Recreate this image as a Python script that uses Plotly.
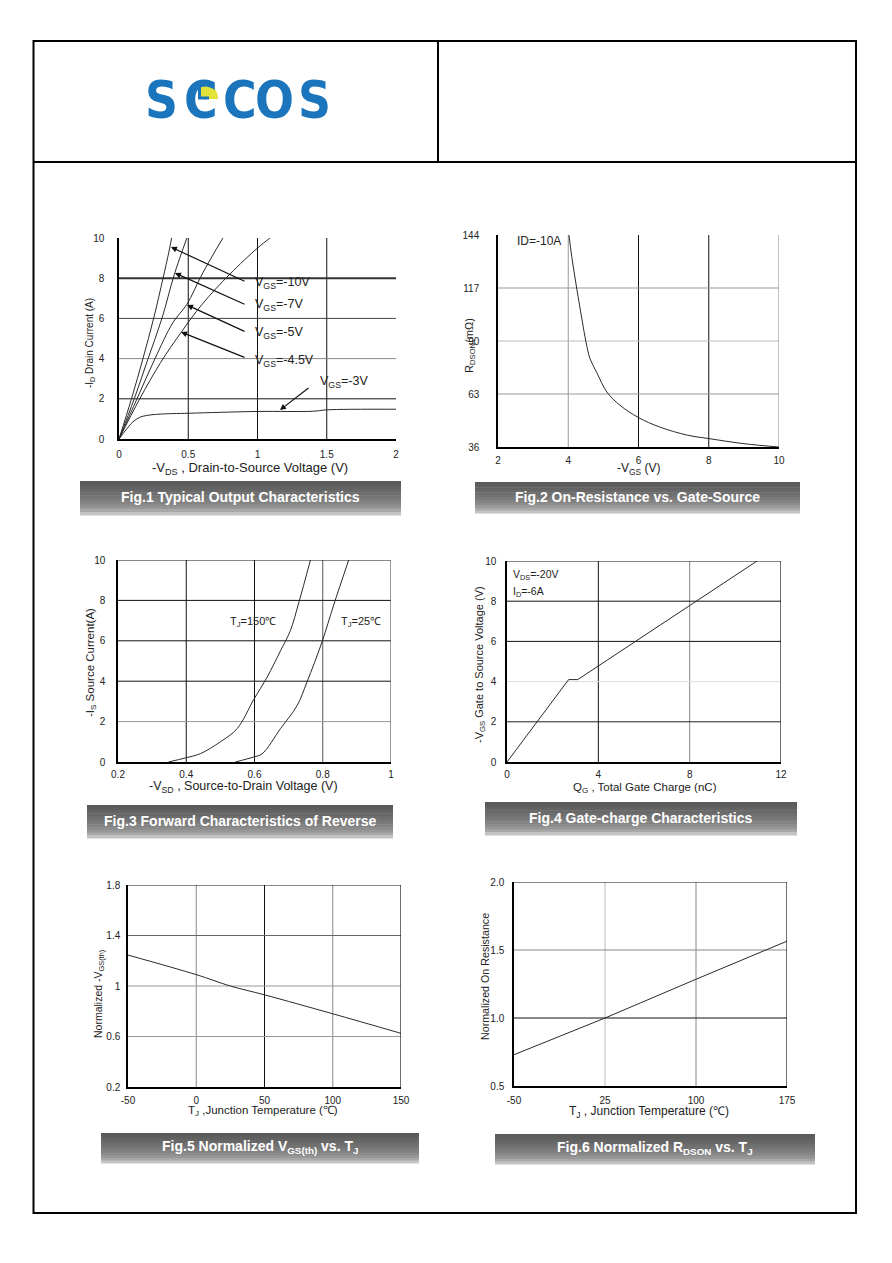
import math
import plotly.graph_objects as go

# the page body has an 8px margin, so the figure is sized to fit inside it
OFF = 8
W, H = 892 - 2 * OFF, 1263 - 2 * OFF

# Fig.1 typical output characteristics
vgs10_x = [0, 0.09, 0.173, 0.25, 0.318, 0.36, 0.38]
vgs10_y = [0, 2, 4, 6, 8, 9.3, 10]
vgs7_x = [0, 0.11, 0.21, 0.31, 0.40, 0.49]
vgs7_y = [0, 2, 4, 6, 8.2, 10]
vgs5_x = [0, 0.13, 0.26, 0.39, 0.49, 0.6, 0.75]
vgs5_y = [0, 2, 4, 5.8, 6.7, 8.2, 10]
vgs45_x = [0, 0.15, 0.3, 0.448, 0.6, 0.8, 1.0, 1.09]
vgs45_y = [0, 2, 3.8, 5.3, 6.7, 8.2, 9.5, 10]
vgs3_x = [0, 0.05, 0.1, 0.15, 0.2, 0.3, 0.5, 1.0, 1.4, 1.5, 2.0]
vgs3_y = [0, 0.45, 0.85, 1.08, 1.17, 1.24, 1.28, 1.37, 1.38, 1.45, 1.48]

# Fig.2 on-resistance vs gate-source
vgs_r = [4.02, 4.1, 4.24, 4.4, 4.5, 4.62, 4.81, 5.1, 5.47, 6.0, 6.6, 7.4, 8.0, 9.0, 10]
rdson = [144, 133, 117, 100, 90, 81, 74, 64, 57.3, 51, 46.2, 42, 40.3, 37.7, 36]

# Fig.3 forward characteristics of reverse diode
vsd150 = [0.348, 0.397, 0.441, 0.5, 0.549, 0.598, 0.637, 0.676, 0.705, 0.73, 0.764]
is150 = [0, 0.2, 0.41, 1.0, 1.65, 3.1, 4.2, 5.5, 6.5, 7.9, 10]
vsd25 = [0.544, 0.598, 0.622, 0.676, 0.725, 0.754, 0.798, 0.832, 0.876]
is25 = [0, 0.25, 0.4, 1.65, 2.8, 3.97, 5.95, 7.77, 10]

# Fig.4 gate charge
qg = [0, 2.7, 3.1, 10.95]
vgs_q = [0, 4.1, 4.1, 10]

# Fig.5 normalized VGS(th)
tj5 = [-50, 0, 25, 50, 100, 150]
vth_n = [1.245, 1.09, 1.0, 0.93, 0.78, 0.625]

# Fig.6 normalized RDSON
tj6 = [-50, 25, 100, 175]
ron_n = [0.73, 1.0, 1.285, 1.565]


def fx(p):
    return (p - OFF) / W


def fy(p):
    return 1 - (p - OFF) / H


FONT = "Liberation Sans, Arial, sans-serif"
fig = go.Figure()
shapes = []
annotations = []

# panel geometry in page pixels: (left, right, top, bottom)
panels = [
    dict(box=(119, 396, 238, 439), xr=[0, 2], yr=[0, 10], xs=5, ys=11,
         xt=[0, 0.5, 1, 1.5, 2], xl=['0', '0.5', '1', '1.5', '2'],
         yt=[0, 2, 4, 6, 8, 10], yl=['0', '2', '4', '6', '8', '10'],
         vgrid=[(0.5, '#111', 1), (1, '#111', 1), (1.5, '#111', 1)],
         hgrid=[(2, '#111', 1), (4, '#888', 1), (6, '#444', 1), (8, '#333', 2)],
         top=None, right=None),
    dict(box=(498, 779, 235, 447), xr=[2, 10], yr=[36, 144], xs=3, ys=15,
         xt=[2, 4, 6, 8, 10], xl=['2', '4', '6', '8', '10'],
         yt=[36, 63, 90, 117, 144], yl=['36', '63', '90', '117', '144'],
         vgrid=[(4, '#999', 1), (6, '#111', 1), (8, '#111', 1)],
         hgrid=[(63, '#999', 1), (90, '#bbb', 1), (117, '#999', 1)],
         top=None, right='#999'),
    dict(box=(118, 391, 560, 762), xr=[0.2, 1], yr=[0, 10], xs=2, ys=9,
         xt=[0.2, 0.4, 0.6, 0.8, 1], xl=['0.2', '0.4', '0.6', '0.8', '1'],
         yt=[0, 2, 4, 6, 8, 10], yl=['0', '2', '4', '6', '8', '10'],
         vgrid=[(0.4, '#111', 1), (0.6, '#111', 1), (0.8, '#555', 1)],
         hgrid=[(2, '#999', 1), (4, '#111', 1), (6, '#111', 1), (8, '#111', 1)],
         top='#111', right='#555'),
    dict(box=(507, 781, 561, 762), xr=[0, 12], yr=[0, 10], xs=2, ys=7,
         xt=[0, 4, 8, 12], xl=['0', '4', '8', '12'],
         yt=[0, 2, 4, 6, 8, 10], yl=['0', '2', '4', '6', '8', '10'],
         vgrid=[(4, '#111', 1), (8, '#888', 1)],
         hgrid=[(2, '#222', 1), (4, '#ddd', 1), (6, '#111', 1), (8, '#111', 1)],
         top='#111', right='#111'),
    dict(box=(128, 401, 885, 1087), xr=[-50, 150], yr=[0.2, 1.8], xs=3, ys=4,
         xt=[-50, 0, 50, 100, 150], xl=['-50', '0', '50', '100', '150'],
         yt=[0.2, 0.6, 1, 1.4, 1.8], yl=['0.2', '0.6', '1', '1.4', '1.8'],
         vgrid=[(0, '#888', 1), (50, '#111', 1), (100, '#888', 1)],
         hgrid=[(0.6, '#999', 1), (1, '#999', 1), (1.4, '#666', 1)],
         top='#111', right='#111'),
    dict(box=(514, 787, 882, 1086), xr=[-50, 175], yr=[0.5, 2.0], xs=4, ys=6,
         xt=[-50, 25, 100, 175], xl=['-50', '25', '100', '175'],
         yt=[0.5, 1.0, 1.5, 2.0], yl=['0.5', '1.0', '1.5', '2.0'],
         vgrid=[(25, '#bbb', 1), (100, '#888', 1)],
         hgrid=[(1.0, '#111', 1), (1.5, '#888', 1)],
         top='#111', right='#111'),
]

layout_axes = {}
for i, p in enumerate(panels, start=1):
    l, r, t, b = p['box']
    sx = '' if i == 1 else str(i)
    xa, ya = 'x' + sx, 'y' + sx
    layout_axes['xaxis' + sx] = dict(
        domain=[fx(l), fx(r)], range=p['xr'], anchor=ya,
        tickvals=p['xt'], ticktext=p['xl'], showgrid=False, zeroline=False,
        showline=True, linecolor='#000', linewidth=1.5, ticks='',
        ticklabelstandoff=p['xs'],
        tickfont=dict(family=FONT, size=10, color='#222'),
    )
    layout_axes['yaxis' + sx] = dict(
        domain=[fy(b), fy(t)], range=p['yr'], anchor=xa,
        tickvals=p['yt'], ticktext=p['yl'], showgrid=False, zeroline=False,
        showline=True, linecolor='#000', linewidth=1.5, ticks='',
        ticklabelstandoff=p['ys'],
        tickfont=dict(family=FONT, size=10, color='#222'),
    )
    for v, c, w in p['vgrid']:
        shapes.append(dict(type='line', xref=xa, yref=ya, x0=v, x1=v,
                           y0=p['yr'][0], y1=p['yr'][1],
                           line=dict(color=c, width=w), layer='below'))
    for v, c, w in p['hgrid']:
        shapes.append(dict(type='line', xref=xa, yref=ya, y0=v, y1=v,
                           x0=p['xr'][0], x1=p['xr'][1],
                           line=dict(color=c, width=w), layer='below'))
    if p['top']:
        shapes.append(dict(type='line', xref=xa, yref=ya, y0=p['yr'][1], y1=p['yr'][1],
                           x0=p['xr'][0], x1=p['xr'][1],
                           line=dict(color=p['top'], width=1.2)))
    if p['right']:
        shapes.append(dict(type='line', xref=xa, yref=ya, x0=p['xr'][1], x1=p['xr'][1],
                           y0=p['yr'][0], y1=p['yr'][1],
                           line=dict(color=p['right'], width=1.2)))

line_style = dict(color='#2a2a2a', width=1)


def add_curve(x, y, n, shape='spline'):
    sx = '' if n == 1 else str(n)
    fig.add_trace(go.Scatter(x=x, y=y, mode='lines', xaxis='x' + sx, yaxis='y' + sx,
                             line=dict(line_style, shape=shape), showlegend=False,
                             hoverinfo='skip'))


add_curve(vgs10_x, vgs10_y, 1)
add_curve(vgs7_x, vgs7_y, 1)
add_curve(vgs5_x, vgs5_y, 1)
add_curve(vgs45_x, vgs45_y, 1)
add_curve(vgs3_x, vgs3_y, 1)
add_curve(vgs_r, rdson, 2)
add_curve(vsd150, is150, 3)
add_curve(vsd25, is25, 3)
add_curve(qg, vgs_q, 4, shape='linear')
add_curve(tj5, vth_n, 5)
add_curve(tj6, ron_n, 6, shape='linear')


def text(x, y, s, size=11, xanchor='center', angle=0, color='#222', bold=False, ref='paper'):
    annotations.append(dict(
        x=x, y=y, xref='paper' if ref == 'paper' else ref[0],
        yref='paper' if ref == 'paper' else ref[1],
        text='<b>%s</b>' % s if bold else s, showarrow=False,
        xanchor=xanchor, yanchor='middle', textangle=angle,
        font=dict(family=FONT, size=size, color=color)))


# Fig.1 labels and arrows
fig1_labels = [
    ('V<sub>GS</sub>=-10V', 0.967, 7.76, 0.917, 7.81, 0.375, 9.55),
    ('V<sub>GS</sub>=-7V', 0.967, 6.67, 0.917, 6.67, 0.404, 8.26),
    ('V<sub>GS</sub>=-5V', 0.967, 5.27, 0.917, 5.32, 0.491, 6.67),
    ('V<sub>GS</sub>=-4.5V', 0.967, 3.88, 0.917, 4.03, 0.448, 5.32),
    ('V<sub>GS</sub>=-3V', 1.437, 2.84, 1.379, 2.59, 1.162, 1.44),
]
for s, tx, ty, ax0, ay0, hx, hy in fig1_labels:
    text(tx, ty, s, size=12.5, xanchor='left', ref=('x', 'y'))
    annotations.append(dict(x=hx, y=hy, ax=ax0, ay=ay0, xref='x', yref='y',
                            axref='x', ayref='y', text='', showarrow=True,
                            arrowhead=2, arrowsize=1, arrowwidth=1.2,
                            arrowcolor='#111'))

text(fx(515), fy(241), 'ID=-10A', size=12, xanchor='left')
text(fx(228), fy(622), 'T<sub>J</sub>=150℃', size=11, xanchor='left')
text(fx(339), fy(622), 'T<sub>J</sub>=25℃', size=11, xanchor='left')
text(fx(511), fy(575), 'V<sub>DS</sub>=-20V', size=10.5, xanchor='left')
text(fx(511), fy(592), 'I<sub>D</sub>=-6A', size=10.5, xanchor='left')

# axis titles
text(fx(250), fy(468), '-V<sub>DS</sub> , Drain-to-Source Voltage (V)', size=13)
text(fx(638), fy(469), '-V<sub>GS</sub> (V)', size=12)
text(fx(243), fy(787), '-V<sub>SD</sub> , Source-to-Drain Voltage (V)', size=12.5)
text(fx(645), fy(788), 'Q<sub>G</sub> , Total Gate Charge (nC)', size=11.5)
text(fx(263), fy(1111), 'T<sub>J</sub> ,Junction Temperature (℃)', size=11.5)
text(fx(649), fy(1112), 'T<sub>J</sub> , Junction Temperature (℃)', size=12)
text(fx(90), fy(343), '-I<sub>D</sub> Drain Current (A)', size=10, angle=-90)
text(fx(470), fy(346), 'R<sub>DSON</sub>(mΩ)', angle=-90)
text(fx(91), fy(663), '-I<sub>S</sub> Source Current(A)', size=11.5, angle=-90)
text(fx(480), fy(665), '-V<sub>GS</sub> Gate to Source Voltage (V)', angle=-90)
text(fx(99), fy(994), 'Normalized -V<sub>GS(th)</sub>', size=10.5, angle=-90)
text(fx(485), fy(976), 'Normalized On Resistance', size=10.7, angle=-90)

# caption bars with a vertical grey gradient
captions = [
    ((80, 401, 481, 515), 'Fig.1 Typical Output Characteristics'),
    ((475, 800, 482, 513), 'Fig.2 On-Resistance vs. Gate-Source'),
    ((87, 393, 805, 838), 'Fig.3 Forward Characteristics of Reverse'),
    ((485, 797, 802, 835), 'Fig.4 Gate-charge Characteristics'),
    ((101, 419, 1133, 1163), 'Fig.5 Normalized V<sub>GS(th)</sub> vs. T<sub>J</sub>'),
    ((495, 815, 1134, 1164), 'Fig.6 Normalized R<sub>DSON</sub> vs. T<sub>J</sub>'),
]
grad = ['#5a5a5a', '#5e5e5e', '#636363', '#686868', '#6e6e6e', '#747474',
        '#7b7b7b', '#838383', '#8c8c8c', '#979797', '#a8a8a8', '#c4c4c4']
for (l, r, t, b), s in captions:
    n = len(grad)
    h = (b - t) / n
    for k, c in enumerate(grad):
        shapes.append(dict(type='rect', xref='paper', yref='paper',
                           x0=fx(l), x1=fx(r), y0=fy(t + k * h), y1=fy(t + (k + 1) * h + 0.5),
                           line=dict(width=0), fillcolor=c))
    text(fx((l + r) / 2), fy((t + b) / 2 - 1), s, size=14, color='white', bold=True)

# page frame and header
frame = dict(color='#000', width=2)
shapes.append(dict(type='rect', xref='paper', yref='paper', x0=fx(33.5), x1=fx(856),
                   y0=fy(41), y1=fy(1213), line=frame))
shapes.append(dict(type='line', xref='paper', yref='paper', x0=fx(33.5), x1=fx(856),
                   y0=fy(162), y1=fy(162), line=frame))
shapes.append(dict(type='line', xref='paper', yref='paper', x0=fx(438), x1=fx(438),
                   y0=fy(41), y1=fy(162), line=frame))

# logo
blue = '#1b75bc'
for ch, cx in [('S', 161), ('C', 201), ('C', 240), ('O', 274), ('S', 314)]:
    annotations.append(dict(x=fx(cx), y=fy(100), xref='paper', yref='paper', text='<b>%s</b>' % ch,
                            showarrow=False, xanchor='center', yanchor='middle',
                            font=dict(family='Liberation Sans Narrow, DejaVu Sans Condensed',
                                      size=51, color=blue)))
arc = ['M %f,%f' % (fx(200), fy(99))]
for k in range(0, 19):
    a = math.radians(90 - k * 5)
    arc.append('L %f,%f' % (fx(200 + 18 * math.cos(a)), fy(99 - 18 * math.sin(a))))
arc.append('Z')
shapes.append(dict(type='path', xref='paper', yref='paper', path=' '.join(arc),
                   fillcolor='#e3e23a', line=dict(width=0)))
shapes.append(dict(type='path', xref='paper', yref='paper',
                   path='M %f,%f L %f,%f L %f,%f L %f,%f L %f,%f L %f,%f Z' % (
                       fx(198), fy(82), fx(201), fy(82), fx(201), fy(96.5),
                       fx(209), fy(96.5), fx(209), fy(99.5), fx(198), fy(99.5)),
                   fillcolor=blue, line=dict(width=0)))

fig.update_layout(
    width=W, height=H, margin=dict(l=0, r=0, t=0, b=0, autoexpand=False),
    paper_bgcolor='white', plot_bgcolor='white',
    showlegend=False, shapes=shapes, annotations=annotations,
    **layout_axes,
)
fig.write_html("out.html")
